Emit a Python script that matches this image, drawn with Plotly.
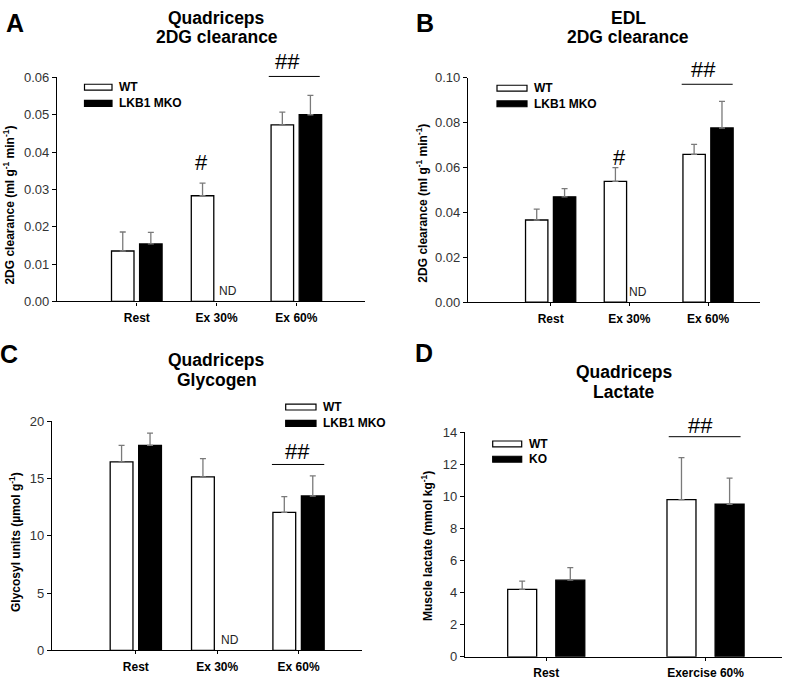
import plotly.graph_objects as go

# ---------------- data ----------------
cats_3 = ["Rest", "Ex 30%", "Ex 60%"]
cats_d = ["Rest", "Exercise 60%"]

a_wt = [0.0135, 0.0283, 0.0473]
a_wt_err = [0.0051, 0.0034, 0.0034]
a_ko = [0.0154, None, 0.0500]
a_ko_err = [0.0031, 0.0, 0.0052]

b_wt = [0.0366, 0.0538, 0.0658]
b_wt_err = [0.0048, 0.0061, 0.0045]
b_ko = [0.0469, None, 0.0776]
b_ko_err = [0.0037, 0.0, 0.0119]

c_wt = [16.44, 15.13, 12.03]
c_wt_err = [1.43, 1.60, 1.37]
c_ko = [17.87, None, 13.46]
c_ko_err = [1.08, 0.0, 1.76]

d_wt = [4.21, 9.81]
d_wt_err = [0.51, 2.62]
d_ko = [4.78, 9.52]
d_ko_err = [0.78, 1.63]

W, H = 790, 686
FONT = "Liberation Sans, Arial, sans-serif"


def px(x):
    return x / W


def py(y):
    return 1 - y / H


fig = go.Figure()


def add_pair(xa, ya, cats, wt, wte, ko, koe, width, off):
    n = len(cats)
    fig.add_trace(go.Bar(
        x=cats, y=wt, xaxis=xa, yaxis=ya, width=[width] * n, offset=-off - width,
        marker=dict(color="white", line=dict(color="black", width=1.3)),
        error_y=dict(type="data", symmetric=False, array=wte, arrayminus=[0] * n,
                     color="#7a7a7a", thickness=1.3, width=3),
        showlegend=False, name="WT"))
    fig.add_trace(go.Bar(
        x=cats, y=ko, xaxis=xa, yaxis=ya, width=[width] * n, offset=off,
        marker=dict(color="black", line=dict(color="black", width=1.3)),
        error_y=dict(type="data", symmetric=False, array=koe, arrayminus=[0] * n,
                     color="#7a7a7a", thickness=1.3, width=3),
        showlegend=False, name="KO"))


add_pair("x", "y", cats_3, a_wt, a_wt_err, a_ko, a_ko_err, 0.282, 0.035)
add_pair("x2", "y2", cats_3, b_wt, b_wt_err, b_ko, b_ko_err, 0.284, 0.035)
add_pair("x3", "y3", cats_3, c_wt, c_wt_err, c_ko, c_ko_err, 0.28, 0.035)
add_pair("x4", "y4", cats_d, d_wt, d_wt_err, d_ko, d_ko_err, 0.182, 0.06)

xcommon = dict(type="category", showline=True, linecolor="black", linewidth=1.2,
               ticks="outside", ticklen=3, tickcolor="black", tickwidth=1,
               showgrid=False, zeroline=False, ticklabelstandoff=2,
               tickfont=dict(family=FONT, size=12, color="black", weight="bold"))
ycommon = dict(showline=True, linecolor="black", linewidth=1.2,
               ticks="outside", ticklen=4, tickcolor="black", tickwidth=1,
               showgrid=False, zeroline=False,
               tickfont=dict(family=FONT, size=13, color="#333333"))

fig.update_layout(
    width=W, height=H, margin=dict(l=0, r=0, t=0, b=0),
    paper_bgcolor="white", plot_bgcolor="white", barmode="overlay",
    font=dict(family=FONT, color="black"),
    xaxis=dict(xcommon, domain=[px(57), px(365)], range=[-1.0, 2.86], anchor="y"),
    yaxis=dict(ycommon, domain=[py(301), py(72)], range=[0, 0.06], dtick=0.01,
               tickformat=".2f", anchor="x"),
    xaxis2=dict(xcommon, domain=[px(468), px(760)], range=[-1.05, 2.66], anchor="y2"),
    yaxis2=dict(ycommon, domain=[py(301.7), py(72.3)], range=[0, 0.10], dtick=0.02,
                tickformat=".2f", anchor="x2"),
    xaxis3=dict(xcommon, domain=[px(52), px(362)], range=[-1.03, 2.78], anchor="y3"),
    yaxis3=dict(ycommon, domain=[py(657.7), py(423.3)], range=[0, 20], dtick=5,
                anchor="x3"),
    xaxis4=dict(xcommon, domain=[px(465), px(782)], range=[-0.51, 1.48], anchor="y4"),
    yaxis4=dict(ycommon, domain=[py(664.3), py(435)], range=[0, 14], dtick=2,
                anchor="x4"),
)

ann = []
shapes = []


def text(x, y, t, size, bold=False, xanchor="center", angle=0, color="black"):
    ann.append(dict(x=px(x), y=py(y), xref="paper", yref="paper", text=t,
                    showarrow=False, xanchor=xanchor, yanchor="middle",
                    textangle=angle,
                    font=dict(family=FONT, size=size, color=color,
                              weight="bold" if bold else "normal")))


# panel letters
text(15, 16, "A", 25, True)
text(424.7, 16, "B", 25, True)
text(9, 355, "C", 25, True)
text(424, 354, "D", 25, True)

# titles
text(216.7, 11, "Quadriceps", 17.5, True)
text(216.7, 31, "2DG clearance", 17.5, True)
text(628.3, 11, "EDL", 17.5, True)
text(628.3, 31, "2DG clearance", 17.5, True)
text(216.7, 361, "Quadriceps", 17.5, True)
text(216.7, 381, "Glycogen", 17.5, True)
text(624, 373.5, "Quadriceps", 17.5, True)
text(624, 393.5, "Lactate", 17.5, True)

# y axis titles
text(9, 203, "2DG clearance (ml g<sup>-1</sup> min<sup>-1</sup>)", 12, True, angle=-90)
text(422, 200, "2DG clearance (ml g<sup>-1</sup> min<sup>-1</sup>)", 12, True, angle=-90)
text(15, 547, "Glycosyl units (\u00b5mol g<sup>-1</sup>)", 12, True, angle=-90)
text(427, 551, "Muscle lactate (mmol kg<sup>-1</sup>)", 12, True, angle=-90)

# legends
legend_specs = [
    (84.5, 112, 82, 98.5, 117, ["WT", "LKB1 MKO"]),
    (497, 527, 83, 99, 532, ["WT", "LKB1 MKO"]),
    (285.7, 316, 409, 425.7, 321, ["WT", "LKB1 MKO"]),
    (492.7, 521.7, 446.7, 462.3, 527, ["WT", "KO"]),
]
for x0, x1, yw, yk, tx, labels in legend_specs:
    for yc, fill, lab in ((yw, "white", labels[0]), (yk, "black", labels[1])):
        shapes.append(dict(type="rect", xref="paper", yref="paper",
                           x0=px(x0), x1=px(x1), y0=py(yc + 3), y1=py(yc - 3),
                           fillcolor=fill, line=dict(color="black", width=1.2)))
        text(tx, yc, lab, 12, True, xanchor="left")


# significance marks (x in category units, y in page position)
def sig(xr, x, ypix, t):
    ann.append(dict(x=x, y=py(ypix), xref=xr, yref="paper", text=t, showarrow=False,
                    xanchor="center", yanchor="middle",
                    font=dict(family=FONT, size=22, color="black")))


def sigline(xr, x0, x1, ypix):
    shapes.append(dict(type="line", xref=xr, yref="paper", x0=x0, x1=x1,
                       y0=py(ypix), y1=py(ypix),
                       line=dict(color="black", width=1)))


def nd(xr, yr, x):
    ann.append(dict(x=x, y=0, xref=xr, yref=yr, text="ND", showarrow=False,
                    xanchor="center", yanchor="bottom", yshift=1,
                    font=dict(family=FONT, size=12, color="#222222")))


sig("x", 0.815, 159, "#")
sig("x", 1.89, 56, "##")
sigline("x", 1.654, 2.293, 71)
nd("x", "y", 1.14)

sig("x2", 0.88, 154, "#")
sig("x2", 1.94, 64, "##")
sigline("x2", 1.665, 2.313, 79)
nd("x2", "y2", 1.11)

sig("x3", 1.99, 454, "##")
sigline("x3", 1.673, 2.316, 467.7)
nd("x3", "y3", 1.16)

sig("x4", 0.969, 427.5, "##")
sigline("x4", 0.769, 1.22, 439.3)

fig.update_layout(annotations=ann, shapes=shapes)
fig.write_html("out.html", config={"displayModeBar": False},
               post_script="document.body.style.margin='0px';")
